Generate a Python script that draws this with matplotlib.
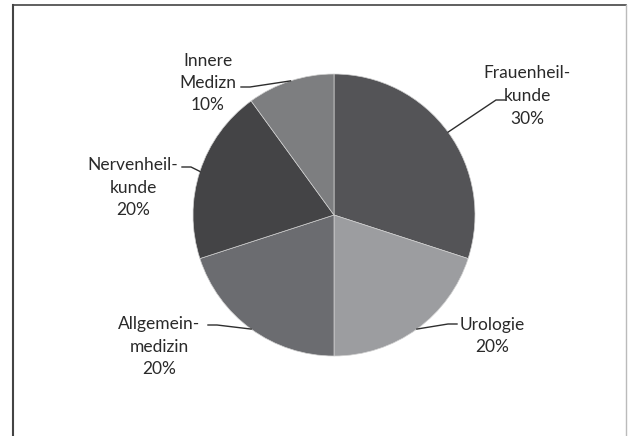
import numpy as np
from matplotlib import pyplot as plt

# Daten
labels = ["Frauenheil-\nkunde", "Urologie", "Allgemein-\nmedizin",
          "Nervenheil-\nkunde", "Innere\nMedizn"]
shares = [30, 20, 20, 20, 10]
colors = ["#545457", "#9c9da0", "#6b6c70", "#444446", "#7d7e80"]

# Positionen der Beschriftungen (Pixel, y von oben)
text_pos = [(527, 96), (492, 336), (159, 347), (133, 188), (208, 83)]
hook_pos = [(505, 100), (457, 324), (208, 325), (182, 167), (241, 87)]

W, H = 632, 436
plt.rcParams["font.family"] = ["Lato", "DejaVu Sans"]

fig = plt.figure(figsize=(W / 100, H / 100), dpi=100)
ax = fig.add_axes([0, 0, 1, 1])

cx, cy, r = 334, H - 215, 141
wedges, _ = ax.pie(shares, colors=colors, startangle=90, counterclock=False,
                   center=(cx, cy), radius=r, frame=True,
                   wedgeprops=dict(edgecolor="#d0d0d0", linewidth=0.5))
ax.set_xlim(0, W)
ax.set_ylim(0, H)
ax.set_aspect("equal")
ax.axis("off")

for w, lab, s, (tx, ty), (hx, hy) in zip(wedges, labels, shares, text_pos, hook_pos):
    ang = np.deg2rad((w.theta1 + w.theta2) / 2)
    ex, ey = cx + r * np.cos(ang), cy + r * np.sin(ang)
    hy = H - hy
    elbow = hx - 9 if hx > cx else hx + 9
    ax.plot([ex, elbow, hx], [ey, hy, hy], color="#2e2e2e", lw=1.0)
    ax.text(tx, H - ty, f"{lab}\n{s}%", ha="center", va="center",
            fontsize=12.5, color="#2a2a2a", linespacing=1.5)

# Rahmen
ax.plot([13, 13], [0, H - 5], color="#444444", lw=1.5)
ax.plot([13, 626], [H - 5, H - 5], color="#444444", lw=1.2)
ax.plot([626, 626], [0, H - 5], color="#bbbbbb", lw=1.0)

fig.savefig("out.png", dpi=100)
